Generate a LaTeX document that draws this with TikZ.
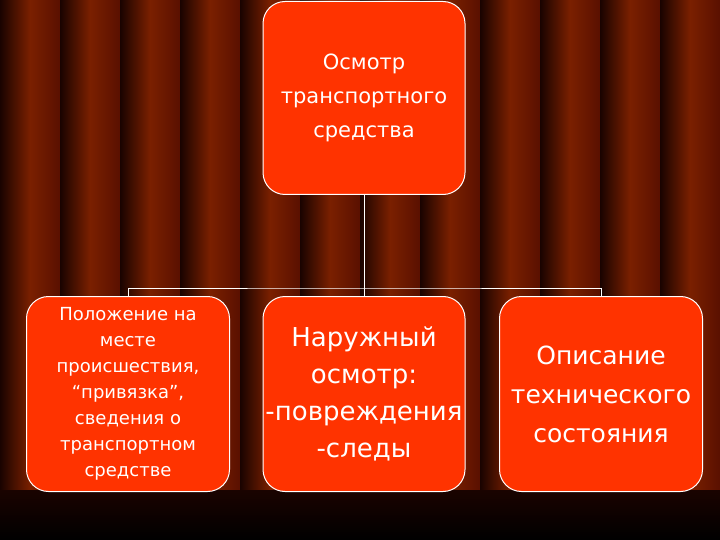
\documentclass[tikz,border=0pt]{standalone}
\usepackage{fontspec}
\setmainfont{DejaVu Sans}
\definecolor{boxred}{HTML}{FF3300}
\definecolor{cdark}{HTML}{1A0300}
\definecolor{cmid}{HTML}{5A1000}
\definecolor{clight}{HTML}{7A2000}
\begin{document}
\begin{tikzpicture}[x=1pt,y=-1pt,
  box/.style={draw=white,line width=1pt,fill=boxred,rounded corners=22pt,align=center,text=white,inner sep=0pt},
  conn/.style={draw=white,line width=1pt}]
\useasboundingbox (0,0) rectangle (720,540);
\fill[cdark] (0,0) rectangle (720,540);
\foreach \x in {0,60,...,660}{
  \shade[left color=cdark, right color=cmid, middle color=clight] (\x,0) rectangle (\x+60,540);
}
\shade[top color=cdark, bottom color=black] (0,490) rectangle (720,540);
\node[box,minimum width=202pt,minimum height=193pt,font=\fontsize{21}{34}\selectfont] (top) at (364,98) {Осмотр\\транспортного\\средства};
\node[box,minimum width=203pt,minimum height=195pt,font=\fontsize{18}{26}\selectfont] (l) at (128,394) {Положение на\\месте\\происшествия,\\“привязка”,\\сведения о\\транспортном\\средстве};
\node[box,minimum width=202pt,minimum height=195pt,font=\fontsize{26}{37}\selectfont] (m) at (364,394) {Наружный\\осмотр:\\-повреждения\\-следы};
\node[box,minimum width=203pt,minimum height=195pt,font=\fontsize{25}{39}\selectfont] (r) at (601,394) {Описание\\технического\\состояния};
\coordinate (j) at (364,288);
\draw[conn] (top.south) -- (j);
\draw[conn] (l.north) |- (j) -| (r.north);
\draw[conn] (j) -- (m.north);
\end{tikzpicture}
\end{document}
